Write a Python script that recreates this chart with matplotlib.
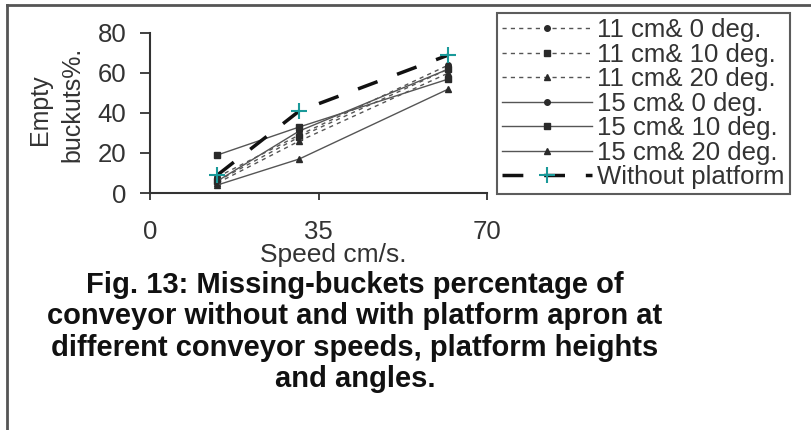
import matplotlib
matplotlib.use("Agg")
import matplotlib.pyplot as plt
from matplotlib.lines import Line2D

plt.rcParams['font.family'] = ['Liberation Sans', 'DejaVu Sans']

speed = [14, 31, 62]
s11_0 = [8, 29, 64]
s11_10 = [6, 28, 62]
s11_20 = [5, 26, 60]
s15_0 = [6, 31, 62]
s15_10 = [19, 33, 57]
s15_20 = [4, 17, 52]
without = [9, 41, 69]

labels = ["11 cm& 0 deg.", "11 cm& 10 deg.", "11 cm& 20 deg.",
          "15 cm& 0 deg.", "15 cm& 10 deg.", "15 cm& 20 deg.",
          "Without platform"]
xticks = [0, 35, 70]
yticks = [0, 20, 40, 60, 80]

W, H = 811, 430
fig = plt.figure(figsize=(W / 100, H / 100), dpi=100)
ax = fig.add_axes([150 / W, 1 - 193 / H, (487 - 150) / W, (193 - 33) / H])

dash = (0, (3, 3))
gray = '#555555'
mk = '#2a2a2a'
ax.plot(speed, s11_0, linestyle=dash, color=gray, lw=1, marker='o', ms=4, mfc=mk, mec=mk, label=labels[0])
ax.plot(speed, s11_10, linestyle=dash, color=gray, lw=1, marker='s', ms=5, mfc=mk, mec=mk, label=labels[1])
ax.plot(speed, s11_20, linestyle=dash, color=gray, lw=1, marker='^', ms=5, mfc=mk, mec=mk, label=labels[2])
ax.plot(speed, s15_0, linestyle='-', color=gray, lw=1, marker='o', ms=4, mfc=mk, mec=mk, label=labels[3])
ax.plot(speed, s15_10, linestyle='-', color=gray, lw=1, marker='s', ms=5, mfc=mk, mec=mk, label=labels[4])
ax.plot(speed, s15_20, linestyle='-', color=gray, lw=1, marker='^', ms=5, mfc=mk, mec=mk, label=labels[5])
ax.plot(speed, without, linestyle=(0, (6, 6)), color='#111111', lw=2.5, marker='+', ms=11,
        mew=1.5, mec='#1a9a9a', label=labels[6])

ax.set_xlim(0, 70)
ax.set_ylim(0, 80)
ax.set_xticks(xticks)
ax.set_yticks(yticks)
for s in ['top', 'right']:
    ax.spines[s].set_visible(False)
for s in ['left', 'bottom']:
    ax.spines[s].set_color('#333333')
    ax.spines[s].set_linewidth(1.5)
ax.tick_params(axis='y', direction='out', length=7, width=1.3, color='#333333',
               labelsize=18.5, labelcolor='#333333', pad=10)
ax.tick_params(axis='x', direction='out', length=5, width=1.3, color='#333333',
               labelsize=18.5, labelcolor='#333333', pad=14.5)
ax.set_xlabel("Speed cm/s.", fontsize=19, color='#333333', va='center')
ax.xaxis.set_label_coords((333 - 150) / 337, -(255 - 193) / 160)
fig.text(40 / W, 1 - 110 / H, "Empty", rotation=90, ha='center', va='center',
         fontsize=18, color='#333333')
fig.text(72 / W, 1 - 104 / H, "buckuts%.", rotation=90, ha='center', va='center',
         fontsize=18, color='#333333')

leg = fig.legend(loc='upper left', bbox_to_anchor=(497 / W, 1 - 13 / H), fontsize=18.5,
                 frameon=True, fancybox=False, edgecolor='#333333', handlelength=3.5,
                 handletextpad=0.2, labelspacing=0.02, borderpad=0.2, borderaxespad=0)
leg.get_frame().set_linewidth(1.5)
for t in leg.get_texts():
    t.set_color('#333333')

fig.text(355 / W, 1 - 332 / H,
         "Fig. 13: Missing-buckets percentage of\nconveyor without and with platform apron at\n"
         "different conveyor speeds, platform heights\nand angles.",
         ha='center', va='center', fontsize=21, fontweight='bold', linespacing=1.16,
         color='#111111')

fig.add_artist(Line2D([7 / W, 1], [1 - 5 / H, 1 - 5 / H], color='#555555', lw=2))
fig.add_artist(Line2D([7 / W, 7 / W], [1 - 5 / H, 0], color='#555555', lw=2))

fig.savefig("out.png", dpi=100)
